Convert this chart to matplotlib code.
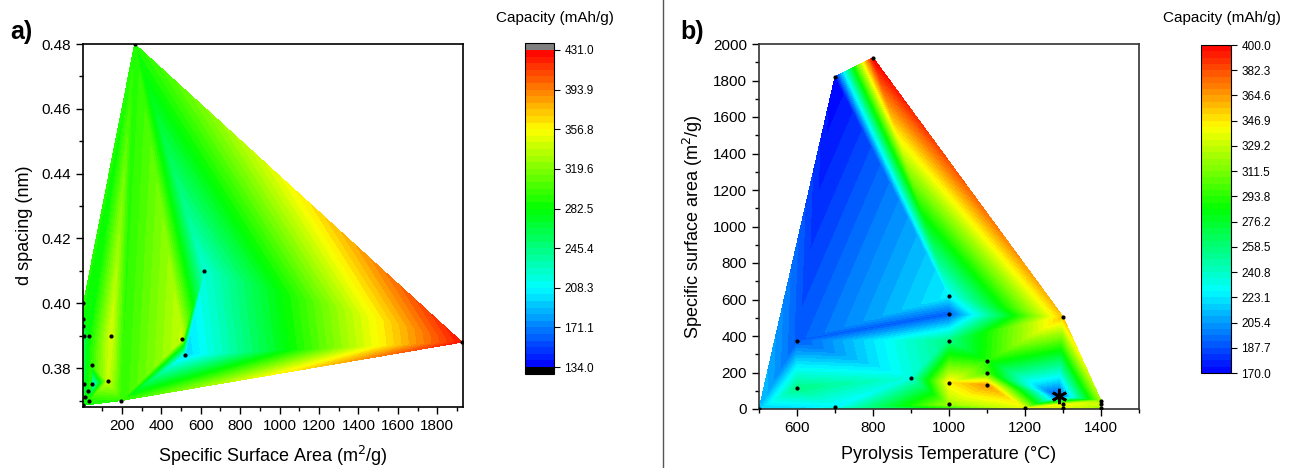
import numpy as np
import matplotlib
matplotlib.use('Agg')
import matplotlib.pyplot as plt
import matplotlib.tri as mtri
from matplotlib.colors import LinearSegmentedColormap
from matplotlib.lines import Line2D
from matplotlib.ticker import MultipleLocator

plt.rcParams['font.family'] = ['Liberation Sans', 'DejaVu Sans']

# panel a: specific surface area vs d spacing
ssa_a = [3, 5, 5, 5, 10, 32, 145, 47, 131, 50, 10, 29, 15, 35, 197, 505, 520, 618, 265, 1925]
d_a = [0.3685, 0.400, 0.395, 0.393, 0.390, 0.390, 0.390, 0.381, 0.376, 0.375, 0.375,
       0.373, 0.371, 0.370, 0.370, 0.389, 0.384, 0.410, 0.480, 0.388]
cap_a = [285, 290, 290, 285, 250, 280, 345, 295, 340, 205, 225, 270, 280, 290, 295,
         340, 195, 220, 290, 425]

# panel b: pyrolysis temperature vs specific surface area
temp_b = [500, 600, 600, 700, 700, 800, 900, 1000, 1000, 1000, 1000, 1000,
          1100, 1100, 1100, 1200, 1290, 1300, 1300, 1300, 1400, 1400, 1400]
ssa_b = [0, 375, 115, 10, 1820, 1925, 170, 620, 520, 375, 145, 25,
         265, 195, 130, 4, 70, 505, 25, 5, 45, 25, 5]
cap_b = [215, 190, 255, 225, 170, 400, 235, 225, 190, 255, 345, 320,
         290, 300, 365, 335, 185, 355, 340, 335, 320, 330, 320]

ticks_a = [134.0, 171.1, 208.3, 245.4, 282.5, 319.6, 356.8, 393.9, 431.0]
ticks_b = [170.0, 187.7, 205.4, 223.1, 240.8, 258.5, 276.2, 293.8, 311.5, 329.2,
           346.9, 364.6, 382.3, 400.0]

cmap = LinearSegmentedColormap.from_list(
    'origin_rainbow', ['#0000ff', '#00ffff', '#00ff00', '#ffff00', '#ff0000'])
cmap.set_under('black')
cmap.set_over('#808080')

W, H = 1292, 468
fig = plt.figure(figsize=(W / 100, H / 100), dpi=100)


def box(l, t, r, b):
    return [l / W, 1 - b / H, (r - l) / W, (b - t) / H]


def style_axes(ax):
    ax.tick_params(which='major', direction='out', length=5, width=1, labelsize=11)
    ax.tick_params(which='minor', direction='out', length=3, width=1)
    for s in ax.spines.values():
        s.set_linewidth(1.2)


# ---- panel a  (triangulated on the raw values)
ax1 = fig.add_axes(box(83, 44, 463, 407))
tri = mtri.Triangulation(ssa_a, d_a)
cs1 = ax1.tricontourf(tri, cap_a, levels=np.linspace(134, 431, 49), cmap=cmap, extend='both')
ax1.scatter(ssa_a, d_a, s=4, c='black', zorder=3)
ax1.set_xlim(3, 1930)
ax1.set_ylim(0.368, 0.48)
ax1.set_xticks(np.arange(200, 1801, 200))
ax1.xaxis.set_minor_locator(MultipleLocator(100))
ax1.yaxis.set_major_locator(MultipleLocator(0.02))
ax1.yaxis.set_minor_locator(MultipleLocator(0.01))
ax1.yaxis.set_major_formatter(plt.FormatStrFormatter('%.2f'))
style_axes(ax1)
ax1.set_xlabel('Specific Surface Area (m$^2$/g)', fontsize=13, labelpad=8)
ax1.set_ylabel('d spacing (nm)', fontsize=13, labelpad=6)
fig.text(10 / W, 1 - 32 / H, 'a)', fontsize=18, fontweight='bold', va='center')

cax1 = fig.add_axes(box(525, 43, 554, 374))
cb1 = fig.colorbar(cs1, cax=cax1, extendrect=True, extendfrac=0.022)
cb1.set_ticks(ticks_a)
cb1.set_ticklabels(['%.1f' % v for v in ticks_a])
cb1.ax.tick_params(labelsize=8.5, length=4, direction='out')
cb1.outline.set_linewidth(0.8)
fig.text(555 / W, 1 - 18 / H, 'Capacity (mAh/g)', fontsize=11, ha='center', va='center')

# ---- panel b
ax2 = fig.add_axes(box(759, 44, 1139, 409))
tri2 = mtri.Triangulation(temp_b, ssa_b)
cs2 = ax2.tricontourf(tri2, cap_b, levels=np.linspace(170, 400, 53), cmap=cmap)
ax2.scatter(temp_b, ssa_b, s=4, c='black', zorder=3)
ax2.plot([1290], [70], marker=(6, 2, 0), ms=11, mew=2, color='black', zorder=4)
ax2.set_xlim(500, 1500)
ax2.set_ylim(0, 2000)
ax2.set_xticks(np.arange(600, 1401, 200))
ax2.xaxis.set_minor_locator(MultipleLocator(100))
ax2.yaxis.set_major_locator(MultipleLocator(200))
ax2.yaxis.set_minor_locator(MultipleLocator(100))
style_axes(ax2)
for s in ax2.spines.values():
    s.set_color('#333333')
ax2.set_xlabel('Pyrolysis Temperature (°C)', fontsize=13, labelpad=8)
ax2.set_ylabel('Specific surface area (m$^2$/g)', fontsize=13, labelpad=6)
fig.text(680 / W, 1 - 32 / H, 'b)', fontsize=18, fontweight='bold', va='center')

cax2 = fig.add_axes(box(1201, 45, 1231, 373))
cb2 = fig.colorbar(cs2, cax=cax2)
cb2.set_ticks(ticks_b)
cb2.set_ticklabels(['%.1f' % v for v in ticks_b])
cb2.ax.tick_params(labelsize=8.5, length=4, direction='out')
cb2.outline.set_linewidth(0.8)
fig.text(1222 / W, 1 - 18 / H, 'Capacity (mAh/g)', fontsize=11, ha='center', va='center')

# divider between panels
fig.add_artist(Line2D([663 / W, 663 / W], [0.0, 1.0], color='#555555', lw=1))

fig.savefig('out.png', dpi=100)
